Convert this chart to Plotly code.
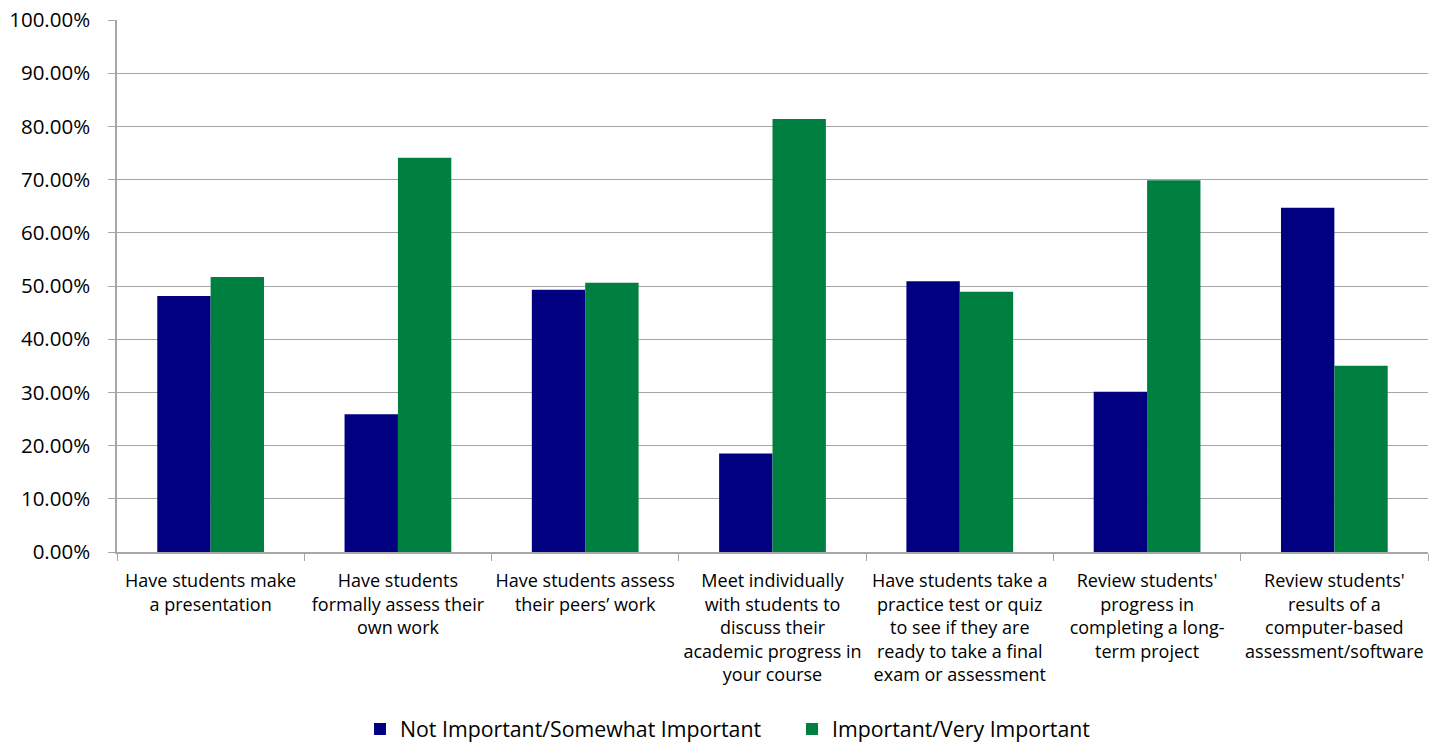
import plotly.graph_objects as go

categories = [
    "Have students make<br>a presentation",
    "Have students<br>formally assess their<br>own work",
    "Have students assess<br>their peers’ work",
    "Meet individually<br>with students to<br>discuss their<br>academic progress in<br>your course",
    "Have students take a<br>practice test or quiz<br>to see if they are<br>ready to take a final<br>exam or assessment",
    "Review students'<br>progress in<br>completing a long-<br>term project",
    "Review students'<br>results of a<br>computer-based<br>assessment/software",
]
not_important = [48.1, 25.9, 49.3, 18.5, 50.9, 30.1, 64.7]
important = [51.7, 74.1, 50.6, 81.4, 48.9, 69.9, 35.0]
y_ticks = [0, 10, 20, 30, 40, 50, 60, 70, 80, 90, 100]

fig = go.Figure()
fig.add_trace(go.Bar(
    x=categories, y=not_important, name="Not Important/Somewhat Important",
    marker=dict(color="#000080", line=dict(width=0)), legend="legend",
))
fig.add_trace(go.Bar(
    x=categories, y=important, name="Important/Very Important",
    marker=dict(color="#008040", line=dict(width=0)), legend="legend2",
))

legend_style = dict(orientation="h", xref="container", xanchor="left",
                    yref="container", y=0.02, yanchor="middle",
                    font=dict(size=21.3), itemwidth=30, bgcolor="rgba(0,0,0,0)")

fig.update_layout(
    width=1439, height=744,
    margin=dict(l=117, r=11, t=20, b=192, autoexpand=False),
    paper_bgcolor="white", plot_bgcolor="white",
    barmode="group", bargap=0.43, bargroupgap=0,
    font=dict(family="Open Sans, sans-serif", size=18, color="#000000"),
    showlegend=True,
    legend=dict(x=360 / 1439, **legend_style),
    legend2=dict(x=792 / 1439, **legend_style),
    xaxis=dict(
        automargin=False, tickangle=0,
        showline=True, linecolor="#a6a6a6", linewidth=1.5,
        ticks="outside", tickson="boundaries", ticklen=7, tickcolor="#a6a6a6",
        tickfont=dict(size=18), ticklabelstandoff=12, showgrid=False,
    ),
    yaxis=dict(
        automargin=False,
        range=[0, 100], tickvals=y_ticks,
        ticktext=[f"{v:.2f}%" for v in y_ticks],
        showline=True, linecolor="#a6a6a6", linewidth=1.5,
        ticks="outside", ticklen=7, tickcolor="#a6a6a6",
        showgrid=True, gridcolor="#a6a6a6", gridwidth=1.2,
        tickfont=dict(size=20.5), ticklabelstandoff=14, zeroline=False,
    ),
)

fig.write_html("out.html")
